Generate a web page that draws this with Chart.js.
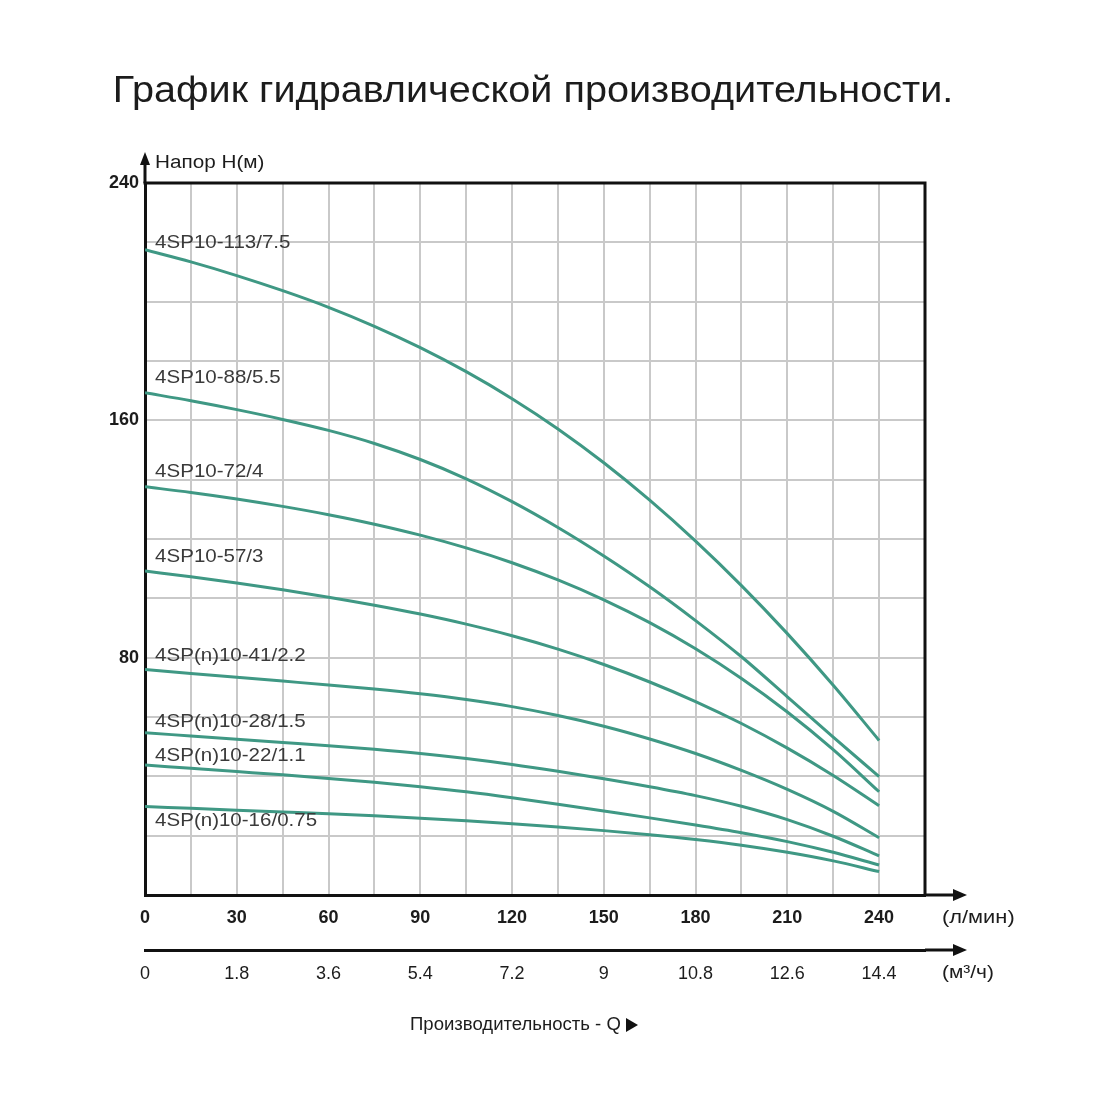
<!DOCTYPE html>
<html>
<head>
<meta charset="utf-8">
<title>График гидравлической производительности</title>
<script src="https://cdn.jsdelivr.net/npm/chart.js@4.4.1/dist/chart.umd.min.js"></script>
<style>
  html, body { margin: 0; padding: 0; background: #fff; }
  #wrap { width: 1100px; height: 1100px; }
</style>
</head>
<body>
<div id="wrap"><canvas id="id_chart" width="1100" height="1100"></canvas></div>
<script>
// Flow, l/min (read every 15 l/min off the picture)
const flow = [0, 15, 30, 45, 60, 75, 90, 105, 120, 135, 150, 165, 180, 195, 210, 225, 240]

const pumpNames = [
  '4SP10-113/7.5', '4SP10-88/5.5', '4SP10-72/4', '4SP10-57/3',
  '4SP(n)10-41/2.2', '4SP(n)10-28/1.5', '4SP(n)10-22/1.1', '4SP(n)10-16/0.75'
]

// Head, m
const head_113 = [217.5, 213.4, 208.8, 203.7, 198.1, 191.7, 184.5, 176.4, 167.3, 157.1, 145.7, 133.1, 119.3, 104.3, 88.1, 70.7, 52.1]
const head_88  = [169.3, 166.6, 163.6, 160.3, 156.6, 152.2, 146.8, 140.3, 132.6, 123.9, 114.3, 103.9, 92.5, 80.3, 66.8, 53.2, 39.9]
const head_72  = [137.6, 135.7, 133.5, 131, 128.2, 125, 121.3, 117, 112, 106.2, 99.5, 91.8, 83, 73, 61.7, 49, 34.8]
const head_57  = [109.2, 107.3, 105.2, 102.9, 100.4, 97.7, 94.7, 91.3, 87.4, 82.9, 77.7, 71.8, 65.2, 57.8, 49.5, 40.3, 30.1]
const head_41  = [76, 74.7, 73.4, 72.1, 70.8, 69.4, 67.8, 65.9, 63.5, 60.5, 56.9, 52.6, 47.7, 42, 35.6, 28.2, 19.3]
const head_28  = [54.7, 53.6, 52.5, 51.4, 50.3, 49.1, 47.7, 46, 44, 41.7, 39.2, 36.5, 33.5, 29.9, 25.4, 19.8, 13.2]
const head_22  = [43.8, 42.7, 41.6, 40.5, 39.3, 38, 36.5, 34.8, 32.8, 30.6, 28.3, 26, 23.6, 21, 18, 14.4, 10.1]
const head_16  = [29.8, 29.2, 28.6, 28, 27.4, 26.7, 25.9, 25, 24, 22.9, 21.7, 20.3, 18.7, 16.8, 14.4, 11.5, 7.9]

const allHeads = [head_113, head_88, head_72, head_57, head_41, head_28, head_22, head_16]

// Where each pump name sits (flow, head)
const labelFlow = 3.3
const labelHead = [220, 174.5, 142.5, 114, 80.5, 58.3, 47, 25]

// Tick labels
const flowTicks = [0, 30, 60, 90, 120, 150, 180, 210, 240]
const headTicks = [80, 160, 240]

const curveColor = '#3f9884'
const gridColor = '#c9c9c9'
const inkColor = '#1c1c1c'

function drawText(ctx, text, x, y, font, align, stretch) {
  ctx.save()
  ctx.font = font
  ctx.textBaseline = 'middle'
  ctx.textAlign = align || 'left'
  ctx.translate(x, y)
  ctx.scale(stretch || 1, 1)
  ctx.fillText(text, 0, 0)
  ctx.restore()
}

function line(ctx, x1, y1, x2, y2) {
  ctx.beginPath()
  ctx.moveTo(x1, y1)
  ctx.lineTo(x2, y2)
  ctx.stroke()
}

function tri(ctx, pts) {
  ctx.beginPath()
  ctx.moveTo(pts[0], pts[1])
  ctx.lineTo(pts[2], pts[3])
  ctx.lineTo(pts[4], pts[5])
  ctx.closePath()
  ctx.fill()
}

/* Frame, arrows, captions and pump names */
const decor = {
  id: 'decor',
  afterDraw(chart) {
    const { ctx, chartArea: a, scales } = chart
    ctx.save()
    ctx.strokeStyle = '#111'
    ctx.fillStyle = '#111'
    ctx.lineWidth = 3

    // top and right edges of the box
    ctx.beginPath()
    ctx.moveTo(a.left - 1.5, a.top)
    ctx.lineTo(a.right, a.top)
    ctx.lineTo(a.right, a.bottom)
    ctx.stroke()

    // axis arrows
    line(ctx, a.right, a.bottom, a.right + 32, a.bottom)
    tri(ctx, [a.right + 42, a.bottom, a.right + 28, a.bottom - 6, a.right + 28, a.bottom + 6])
    const y2 = scales.x2.top
    line(ctx, a.right, y2, a.right + 32, y2)
    tri(ctx, [a.right + 42, y2, a.right + 28, y2 - 6, a.right + 28, y2 + 6])
    line(ctx, a.left, a.top, a.left, a.top - 20)
    tri(ctx, [a.left, a.top - 31, a.left - 5, a.top - 18, a.left + 5, a.top - 18])

    // captions
    ctx.fillStyle = inkColor
    drawText(ctx, 'График гидравлической производительности.', 533, 92, '36px "Liberation Sans", Arial, sans-serif', 'center', 1.1)
    drawText(ctx, 'Напор H(м)', a.left + 10, a.top - 20, '18px "Liberation Sans", Arial, sans-serif', 'left', 1.15)
    drawText(ctx, '(л/мин)', a.right + 17, a.bottom + 23, '19px "Liberation Sans", Arial, sans-serif', 'left', 1.15)
    drawText(ctx, '(м³/ч)', a.right + 17, y2 + 23, '19px "Liberation Sans", Arial, sans-serif', 'left', 1.1)
    drawText(ctx, 'Производительность - Q', 410, 1025, '18px "Liberation Sans", Arial, sans-serif', 'left', 1.03)
    ctx.fillStyle = '#111'
    tri(ctx, [638, 1025, 626, 1018, 626, 1032])

    // pump names
    ctx.fillStyle = '#3a3a3a'
    pumpNames.forEach((name, i) => {
      const px = scales.x.getPixelForValue(labelFlow)
      const py = scales.y.getPixelForValue(labelHead[i])
      drawText(ctx, name, px, py, '19px "Liberation Sans", Arial, sans-serif', 'left', 1.08)
    })
    ctx.restore()
  }
}

const datasets = allHeads.map((heads, i) => ({
  label: pumpNames[i],
  data: flow.map((q, k) => ({ x: q, y: heads[k] })),
  borderColor: curveColor,
  borderWidth: 3,
  pointRadius: 0,
  fill: false,
  cubicInterpolationMode: 'monotone'
}))

new Chart(document.getElementById('id_chart'), {
  type: 'line',
  data: { datasets: datasets },
  options: {
    responsive: false,
    animation: false,
    events: [],
    layout: { padding: { left: 100, top: 183, right: 175, bottom: 110 } },
    plugins: { legend: { display: false }, tooltip: { enabled: false }, title: { display: false } },
    scales: {
      x: {
        type: 'linear',
        position: 'bottom',
        weight: 0,
        min: 0,
        max: 255,
        grid: { color: gridColor, lineWidth: 2, drawTicks: false },
        border: { color: '#111', width: 3 },
        ticks: {
          stepSize: 15,
          maxTicksLimit: 100,
          autoSkip: false,
          maxRotation: 0,
          padding: 12,
          color: inkColor,
          font: { family: '"Liberation Sans", Arial, sans-serif', size: 18, weight: 'bold' },
          callback: (v) => flowTicks.includes(v) ? String(v) : ''
        },
        afterFit: (scale) => { scale.height = 55 }
      },
      x2: {
        type: 'linear',
        position: 'bottom',
        weight: 1,
        min: 0,
        max: 15.3,
        grid: { display: false, drawTicks: false },
        border: { color: '#111', width: 3 },
        ticks: {
          stepSize: 1.8,
          includeBounds: false,
          maxTicksLimit: 100,
          autoSkip: false,
          maxRotation: 0,
          padding: 13,
          color: inkColor,
          font: { family: '"Liberation Sans", Arial, sans-serif', size: 18 },
          callback: (v) => {
            const k = v / 1.8
            return Math.abs(k - Math.round(k)) < 1e-6 ? String(Number(v.toFixed(1))) : ''
          }
        },
        afterFit: (scale) => { scale.height = 40 }
      },
      y: {
        type: 'linear',
        min: 0,
        max: 240,
        grid: { color: gridColor, lineWidth: 2, drawTicks: false },
        border: { color: '#111', width: 3 },
        ticks: {
          stepSize: 20,
          maxTicksLimit: 100,
          autoSkip: false,
          padding: 6,
          color: inkColor,
          font: { family: '"Liberation Sans", Arial, sans-serif', size: 18, weight: 'bold' },
          callback: (v) => headTicks.includes(v) ? String(v) : ''
        },
        afterFit: (scale) => { scale.width = 45 }
      }
    }
  },
  plugins: [decor]
})
</script>
</body>
</html>
